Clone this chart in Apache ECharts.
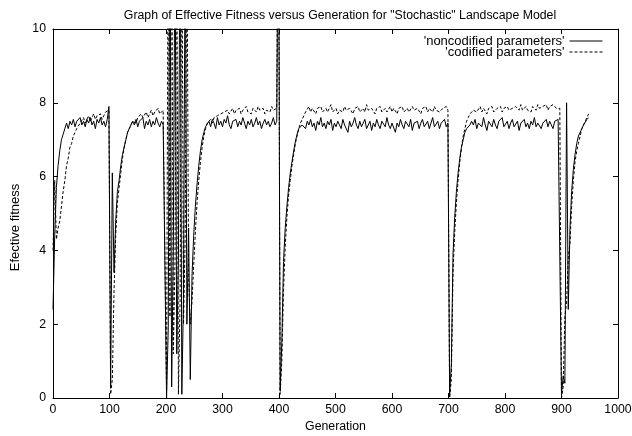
<!DOCTYPE html>
<html>
<head>
<meta charset="utf-8">
<script src="https://cdn.jsdelivr.net/npm/echarts@6/dist/echarts.min.js"></script>
<style>
  html, body { margin: 0; padding: 0; background: #fff; }
  #main { width: 632px; height: 436px; }
</style>
</head>
<body>
<div id="main"></div>
<script>
// one sample every 3 generations, from generation 0 to 948
const GEN_STEP = 3;

const xTicks = [0, 100, 200, 300, 400, 500, 600, 700, 800, 900, 1000];
const yTicks = [0, 2, 4, 6, 8, 10];

// 'noncodified parameters' (solid line)
const noncodified = [
  // 0 - 99
  2.4, 4.4, 5.7, 6.3, 6.7, 7.0, 7.15, 7.3, 7.45, 7.3,
  7.5, 7.4, 7.55, 7.35, 7.5, 7.45, 7.6, 7.4, 7.5, 7.35,
  7.55, 7.45, 7.6, 7.4, 7.5, 7.3, 7.55, 7.45, 7.6, 7.4,
  7.5, 7.35, 7.55, 7.9,
  // 102 - 198
  0.3, 6.1, 3.4, 4.8, 5.6, 5.9, 6.3, 6.6, 6.8, 7.0,
  7.2, 7.3, 7.35, 7.5, 7.4, 7.55, 7.35, 7.5, 7.45, 7.6,
  7.3, 7.5, 7.4, 7.55, 7.35, 7.5, 7.4, 7.6, 7.45, 7.35,
  7.5, 7.4, 7.45,
  // 201 - 399
  0.0, 1.9, 14, 0.3, 4.2, 13, 1.2, 3.8, 14, 0.1,
  2.7, 13, 2.0, 4.6, 0.5,
  3.3, 4.4, 5.2, 5.8, 6.3, 6.7, 7.0, 7.2, 7.35, 7.4,
  7.5, 7.35, 7.55, 7.45, 7.3, 7.6, 7.4, 7.5, 7.35, 7.55,
  7.45, 7.65, 7.4, 7.3, 7.5, 7.45, 7.55, 7.35, 7.5, 7.4,
  7.6, 7.45, 7.3, 7.5, 7.4, 7.55, 7.35, 7.45, 7.6, 7.4,
  7.5, 7.3, 7.45, 7.55, 7.4, 7.5, 7.35, 7.45, 7.6, 7.4,
  7.5, 15,
  // 402 - 699
  0.2, 1.5, 3.7, 4.6, 5.2, 5.7, 6.1, 6.4, 6.7, 6.95,
  7.15, 7.3, 7.35, 7.4,
  7.45, 7.3, 7.5, 7.4, 7.55, 7.35, 7.45, 7.25, 7.5, 7.4,
  7.6, 7.35, 7.45, 7.3, 7.5, 7.4, 7.55, 7.25, 7.45, 7.35,
  7.5, 7.4, 7.3, 7.55, 7.4, 7.45, 7.2, 7.5, 7.35, 7.45,
  7.6, 7.4, 7.3, 7.5, 7.35, 7.45, 7.55, 7.3, 7.4, 7.5,
  7.25, 7.45, 7.35, 7.55, 7.4, 7.3, 7.5, 7.45, 7.35, 7.6,
  7.4, 7.3, 7.45, 7.5, 7.2, 7.45, 7.35, 7.55, 7.4, 7.3,
  7.5, 7.45, 7.35, 7.55, 7.25, 7.45, 7.4, 7.5, 7.3, 7.45,
  7.55, 7.35, 7.4, 7.5, 7.3, 7.45, 7.6, 7.35, 7.4, 7.5,
  7.3, 7.45, 7.4, 7.55, 7.35, 7.45,
  // 702 - 897
  0.1, 0.9, 3.9, 4.9, 5.6, 6.1, 6.5, 6.8, 7.0, 7.2,
  7.3, 7.35, 7.4, 7.5,
  7.4, 7.55, 7.3, 7.45, 7.5, 7.35, 7.6, 7.4, 7.25, 7.5,
  7.45, 7.35, 7.55, 7.4, 7.3, 7.5, 7.45, 7.6, 7.35, 7.4,
  7.5, 7.3, 7.45, 7.55, 7.35, 7.4, 7.5, 7.25, 7.45, 7.4,
  7.55, 7.35, 7.45, 7.3, 7.5, 7.4, 7.6, 7.35, 7.45, 7.5,
  7.3, 7.45, 7.4, 7.55, 7.35, 7.5, 7.4, 7.3, 7.5, 7.45,
  7.55, 7.5,
  // 900 - 948
  0.1, 0.6, 0.4, 8.0, 2.4, 4.6, 5.6, 6.2, 6.6, 6.9,
  7.1, 7.2, 7.3, 7.4, 7.45, 7.55, 7.6
];

// 'codified parameters' (dashed line)
const codified = [
  // 0 - 99
  4.0, 5.9, 4.3, 4.6, 4.8, 5.2, 5.6, 5.9, 6.3, 6.5,
  6.8, 6.9, 7.1, 7.2, 7.3, 7.35, 7.45, 7.5, 7.6, 7.45,
  7.55, 7.65, 7.5, 7.6, 7.7, 7.55, 7.65, 7.6, 7.7, 7.55,
  7.65, 7.75, 7.7, 7.8,
  // 102 - 198
  0.1, 0.5, 2.9, 4.4, 5.3, 5.7, 6.1, 6.5, 6.8, 7.0,
  7.2, 7.3, 7.4, 7.5,
  7.55, 7.45, 7.6, 7.55, 7.7, 7.6, 7.65, 7.75, 7.6, 7.7,
  7.8, 7.65, 7.75, 7.7, 7.85, 7.7, 7.75, 7.8, 7.85,
  // 201 - 399
  0.2, 14, 2.2, 14, 1.2, 3.8, 13, 0.1, 2.7, 14,
  2.0, 4.4, 13, 3.3, 2.0,
  2.6, 3.6, 4.5, 5.3, 5.9, 6.4, 6.8, 7.1, 7.3, 7.45,
  7.5, 7.55, 7.45, 7.6, 7.55, 7.65, 7.6, 7.7, 7.65, 7.75,
  7.7, 7.8, 7.7, 7.75, 7.85, 7.7, 7.8, 7.75, 7.85, 7.7,
  7.8, 7.75, 7.9, 7.75, 7.8, 7.7, 7.85, 7.8, 7.75, 7.9,
  7.8, 7.75, 7.85, 7.7, 7.8, 7.85, 7.75, 7.9, 7.8, 7.75,
  7.85, 15,
  // 402 - 699
  0.1, 1.0, 2.9, 4.1, 4.9, 5.5, 5.9, 6.3, 6.6, 6.9,
  7.1, 7.3, 7.45, 7.55,
  7.65, 7.75, 7.8, 7.9, 7.75, 7.85, 7.8, 7.7, 7.85, 7.8,
  7.9, 7.75, 7.8, 7.85, 7.75, 7.8, 7.95, 7.75, 7.8, 7.85,
  7.7, 7.8, 7.85, 7.75, 7.9, 7.8, 7.75, 7.85, 7.8, 7.7,
  7.85, 7.8, 7.9, 7.75, 7.8, 7.85, 7.75, 7.95, 7.8, 7.75,
  7.85, 7.8, 7.7, 7.85, 7.8, 7.9, 7.75, 7.8, 7.85, 7.75,
  7.8, 7.9, 7.75, 7.85, 7.8, 7.7, 7.85, 7.8, 7.9, 7.75,
  7.8, 7.85, 7.75, 7.8, 7.9, 7.8, 7.75, 7.85, 7.8, 7.7,
  7.85, 7.8, 7.9, 7.75, 7.85, 7.8, 7.75, 7.9, 7.8, 7.85,
  7.75, 7.8, 7.85, 7.8, 7.9, 7.8,
  // 702 - 897
  0.0, 0.5, 3.4, 4.5, 5.3, 5.9, 6.4, 6.8, 7.1, 7.3,
  7.5, 7.6, 7.7, 7.75,
  7.8, 7.85, 7.75, 7.8, 7.9, 7.75, 7.85, 7.8, 7.7, 7.85,
  7.8, 7.9, 7.75, 7.8, 7.85, 7.8, 7.9, 7.75, 7.85, 7.8,
  7.9, 7.8, 7.75, 7.85, 7.8, 7.9, 7.85, 7.8, 7.95, 7.8,
  7.85, 7.9, 7.8, 7.85, 7.75, 7.9, 7.85, 7.8, 7.95, 7.85,
  7.8, 7.9, 7.85, 7.95, 7.8, 7.9, 7.85, 7.95, 7.9, 7.85,
  7.9, 7.85,
  // 900 - 948
  0.0, 0.3, 2.2, 2.6, 3.8, 4.2, 5.2, 5.9, 6.4, 6.7,
  6.9, 7.1, 7.3, 7.4, 7.5, 7.6, 7.7
];

const NAME_NONCOD = "'noncodified parameters'";
const NAME_COD = "'codified parameters'";
const FONT = 'Liberation Sans, Arial, Helvetica, sans-serif';
const FS = 12.3;

function toPoints(values) {
  return values.map((v, i) => [i * GEN_STEP, v]);
}

const chart = echarts.init(document.getElementById('main'), null, { renderer: 'canvas' });

const axisCommon = {
  type: 'value',
  axisLine: { show: true, onZero: false, lineStyle: { color: '#000', width: 1 } },
  axisTick: { show: true, inside: true, length: 5, lineStyle: { color: '#000' } },
  splitLine: { show: false }
};

const legendCommon = {
  right: 29, padding: 0,
  itemWidth: 33, itemHeight: 10, align: 'right',
  itemStyle: { opacity: 0 },
  lineStyle: { width: 1 },
  textStyle: { fontSize: 13, color: '#000', fontFamily: FONT }
};

const option = {
  animation: false,
  backgroundColor: '#fff',
  textStyle: { fontFamily: FONT },
  title: {
    text: 'Graph of Effective Fitness versus Generation for "Stochastic" Landscape Model',
    left: 335,
    top: 5,
    textAlign: 'center',
    textStyle: { fontSize: FS, fontWeight: 'normal', color: '#000', fontFamily: FONT }
  },
  legend: [
    Object.assign({}, legendCommon, { data: [NAME_NONCOD], top: 34.5 }),
    Object.assign({}, legendCommon, { data: [NAME_COD], top: 45.5 })
  ],
  grid: { left: 53, right: 14, top: 29, bottom: 38, show: false, outerBoundsMode: 'none', containLabel: false },
  xAxis: [
    Object.assign({}, axisCommon, {
      position: 'bottom',
      min: xTicks[0], max: xTicks[xTicks.length - 1], interval: 100,
      axisLabel: { fontSize: FS, color: '#000', margin: 6, fontFamily: FONT, formatter: v => String(v) },
      name: 'Generation', nameLocation: 'middle', nameGap: 23,
      nameTextStyle: { fontSize: FS, color: '#000', fontFamily: FONT }
    }),
    Object.assign({}, axisCommon, {
      position: 'top',
      min: xTicks[0], max: xTicks[xTicks.length - 1], interval: 100,
      axisLabel: { show: false }
    })
  ],
  yAxis: [
    Object.assign({}, axisCommon, {
      position: 'left',
      min: yTicks[0], max: yTicks[yTicks.length - 1], interval: 2,
      axisLabel: { fontSize: FS, color: '#000', margin: 7, fontFamily: FONT },
      name: 'Efective fitness', nameLocation: 'middle', nameGap: 20,
      nameTextStyle: { fontSize: 13, color: '#000', fontFamily: FONT, padding: [0, 28, 0, 0] }
    }),
    Object.assign({}, axisCommon, {
      position: 'right',
      min: yTicks[0], max: yTicks[yTicks.length - 1], interval: 2,
      axisLabel: { show: false }
    })
  ],
  series: [
    {
      name: NAME_NONCOD,
      type: 'line',
      xAxisIndex: 0, yAxisIndex: 0,
      data: toPoints(noncodified),
      symbol: 'none',
      clip: true,
      lineStyle: { color: '#000', width: 1 },
      itemStyle: { color: '#000' }
    },
    {
      name: NAME_COD,
      type: 'line',
      xAxisIndex: 0, yAxisIndex: 0,
      data: toPoints(codified),
      symbol: 'none',
      clip: true,
      lineStyle: { color: '#000', width: 1, type: [3, 2] },
      itemStyle: { color: '#000' }
    }
  ]
};

chart.setOption(option);
</script>
</body>
</html>
